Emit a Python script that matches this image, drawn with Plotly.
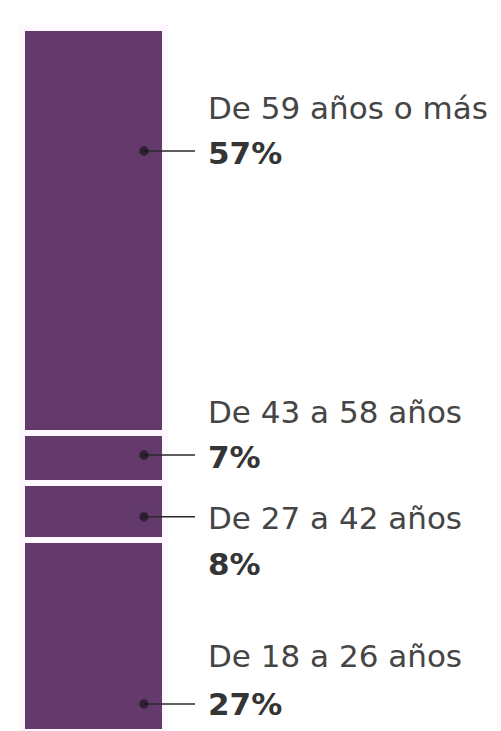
import plotly.graph_objects as go

# ---- data ----
categories = ["De 18 a 26 años", "De 27 a 42 años", "De 43 a 58 años", "De 59 años o más"]
values = [27, 8, 7, 57]
value_labels = ["27%", "8%", "7%", "57%"]

# ---- style / layout ----
BAR_COLOR = "#643a6c"
GAP_COLOR = "#fdf8fd"
TEXT_COLOR = "#454545"
PCT_COLOR = "#353535"
DOT_COLOR = "#1c1020"
FONT = "DejaVu Sans"
FONT_SIZE = 31
label_frac = [0.146, 0.41, 0.566, 0.697]   # where each leader dot sits inside its segment
name_shift = [48, -1, 43, 43]              # px offset of category line from dot
pct_shift = [0, -47, -2, -2]               # px offset of percentage line from dot
BAR_X, BAR_W = 93.25, 142.5
DOT_X, LINE_END, TEXT_X = 144, 195, 206

fig = go.Figure()

for cat, v in zip(categories, values):
    fig.add_trace(go.Bar(
        x=[BAR_X], y=[v], width=BAR_W, name=cat,
        marker=dict(color=BAR_COLOR, line=dict(color=GAP_COLOR, width=6)),
        hoverinfo="skip",
    ))

base = 0
for i, (cat, v, lab) in enumerate(zip(categories, values, value_labels)):
    dy = base + label_frac[i] * v
    fig.add_trace(go.Scatter(
        x=[DOT_X, LINE_END], y=[dy, dy], mode="lines+markers",
        line=dict(color="#2a2a2a", width=1.5),
        marker=dict(size=[9, 0], color=DOT_COLOR),
        hoverinfo="skip",
    ))
    fig.add_annotation(x=TEXT_X, y=dy, xref="x", yref="y", text=cat,
                       showarrow=False, xanchor="left", yanchor="middle",
                       yshift=name_shift[i],
                       font=dict(family=FONT, size=FONT_SIZE, color=TEXT_COLOR))
    fig.add_annotation(x=TEXT_X, y=dy, xref="x", yref="y", text=f"<b>{lab}</b>",
                       showarrow=False, xanchor="left", yanchor="middle",
                       yshift=pct_shift[i],
                       font=dict(family=FONT, size=FONT_SIZE, color=PCT_COLOR))
    base += v

# the page body has an 8px default margin, so the figure is 8px smaller
fig.update_layout(
    width=493, height=723,
    margin=dict(l=0, r=0, t=0, b=0),
    paper_bgcolor="white", plot_bgcolor="white",
    barmode="stack", bargap=0, showlegend=False,
    xaxis=dict(range=[8, 501], visible=False, fixedrange=True),
    yaxis=dict(range=[0.14, 101.83], visible=False, fixedrange=True),
)

fig.write_html("out.html")
